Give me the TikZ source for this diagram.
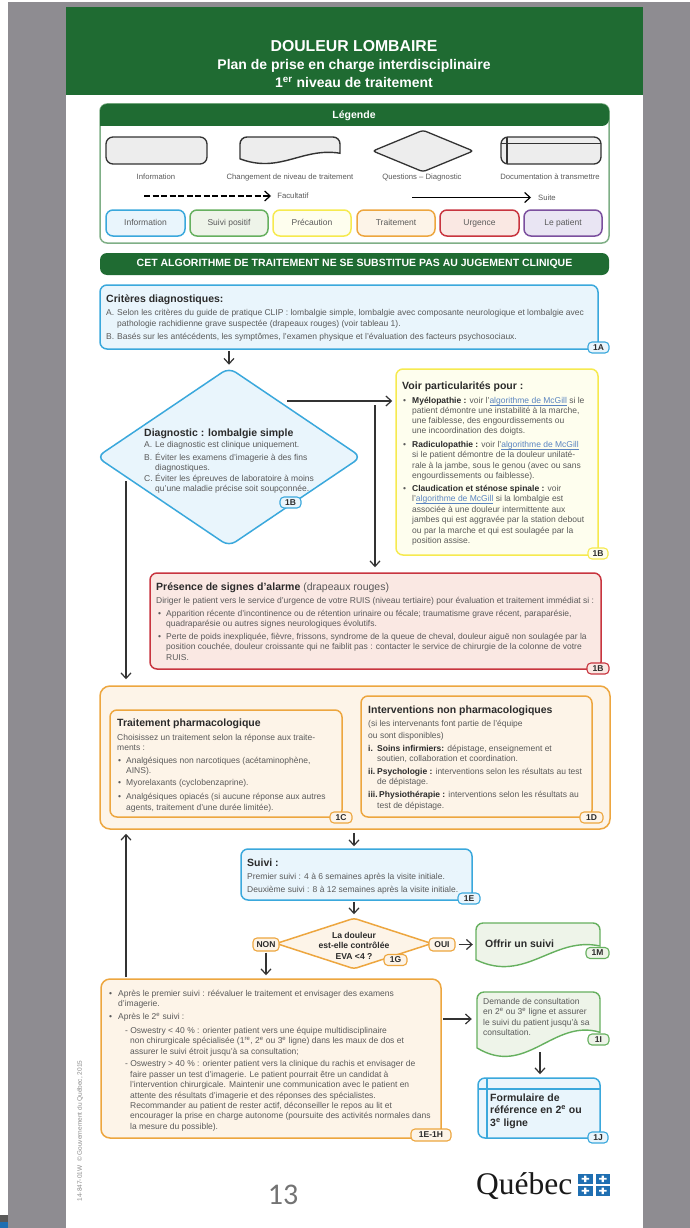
\documentclass[tikz,border=0pt]{standalone}
\usepackage{fontspec}
\setmainfont{Liberation Sans}
\newfontfamily\quefont{Liberation Serif}
\newfontfamily\numfont{Carlito}
\usetikzlibrary{shapes.geometric,arrows.meta}
\definecolor{hgreen}{HTML}{1F6B32}
\definecolor{panel}{HTML}{8E8C91}
\definecolor{bodyc}{HTML}{5A5A5A}
\definecolor{darkc}{HTML}{2B2B2B}
\definecolor{arrc}{HTML}{333333}
\definecolor{linkc}{HTML}{5B85C0}
\definecolor{qblue}{HTML}{1F6FB2}
\definecolor{lblue}{HTML}{3AA8DC}\definecolor{fblue}{HTML}{E9F5FC}
\definecolor{lgreen}{HTML}{66B05F}\definecolor{fgreen}{HTML}{EEF4E9}
\definecolor{lyellow}{HTML}{F6EA4F}\definecolor{fyellow}{HTML}{FEFEEE}
\definecolor{lorange}{HTML}{EDA63F}\definecolor{forange}{HTML}{FDF4E8}
\definecolor{lred}{HTML}{C8353F}\definecolor{fred}{HTML}{FAE8E3}
\definecolor{lpurple}{HTML}{7B4F9E}\definecolor{fpurple}{HTML}{E9E5F3}
\definecolor{lleg}{HTML}{7FAF86}
\definecolor{lgrey}{HTML}{333333}\definecolor{fgrey}{HTML}{EDEDED}
\newcommand\fb{\fontsize{8.5}{9.5}\selectfont}
\newcommand\bt[1]{\textcolor{darkc}{\textbf{#1}}}
\newlength\lkw
\newcommand\lk[1]{\settowidth{\lkw}{#1}\textcolor{linkc}{\rlap{\rule[-1.2pt]{\lkw}{.5pt}}#1}}
\newcounter{tn}
\newcommand\tl[3]{\stepcounter{tn}\node[txt] (t\arabic{tn}) at (#1,{#2+2.8}) {#3};}
\newcommand\ti[4][10.5]{\stepcounter{tn}\node[txt,font={\fontsize{#1}{#1}\selectfont\bfseries},text=darkc] (t\arabic{tn}) at (#2,{#3+3.4}) {#4};}
\newcommand\lb[3]{\stepcounter{tn}\node[leg] (t\arabic{tn}) at (#1,#2) {#3};}
\newcommand\bx[6]{\node[#6,minimum width={(#4-#2)*1pt},minimum height={(#5-#3)*1pt}] (#1) at ({(#2+#4)/2},{(#3+#5)/2}) {};}
\newcommand\tg[7][]{\node[tagbox,draw=#6,fill=#7,minimum width={#4*1pt},#1] (#2) at (#3) {#5};}
% wave: name x1 y1 x2 y2 R L line fill
\newcommand\wave[9]{%
 \pgfmathsetmacro\wx{#4-#2}\pgfmathsetmacro\wy{#5-#3}%
 \pgfmathsetmacro\yr{#3+#6*\wy}\pgfmathsetmacro\yl{#3+#7*\wy}%
 \pgfmathsetmacro\cax{#2+.62*\wx}\pgfmathsetmacro\cay{\yr-.22*\wy}%
 \pgfmathsetmacro\cbx{#2+.4*\wx}\pgfmathsetmacro\cby{#3+1.32*\wy}%
 \draw[line width=1.4pt,draw=#8,fill=#9] (#4,\yr) .. controls (\cax,\cay) and (\cbx,\cby) .. (#2,\yl) [rounded corners=7pt] -- (#2,#3) -- (#4,#3) [sharp corners] -- cycle;%
 \bx{#1}{#2}{#3}{#4}{#5}{inner sep=0}%
}
\tikzset{
 x=1pt,y=-1pt,
 txt/.style={anchor=base west,inner sep=0,text=bodyc,font=\fb},
 leg/.style={inner sep=0,text=bodyc,text height=5.6pt,text depth=1.6pt,font=\fontsize{7.7}{8}\selectfont},
 pill/.style={leg,font=\fontsize{8.5}{9}\selectfont},
 hd/.style={anchor=base,inner sep=0,text=white,font=\bfseries},
 rbox/.style={draw,rounded corners=7pt,inner sep=0,line width=1.5pt},
 bluebox/.style={rbox,draw=lblue,fill=fblue},
 greenbox/.style={rbox,draw=lgreen,fill=fgreen},
 yellowbox/.style={rbox,draw=lyellow,fill=fyellow},
 orangebox/.style={rbox,draw=lorange,fill=forange},
 redbox/.style={rbox,draw=lred,fill=fred},
 purplebox/.style={rbox,draw=lpurple,fill=fpurple},
 greybox/.style={rbox,draw=lgrey,fill=fgrey,line width=1.3pt},
 tagbox/.style={inner sep=0,rounded corners=4pt,line width=1.1pt,minimum height=11pt,text=darkc,font=\fontsize{8.5}{9}\bfseries\selectfont},
 arr/.style={draw=arrc,line width=1.2pt,-{Straight Barb[length=5.5pt,width=10pt]}},
}
\begin{document}
\begin{tikzpicture}
\useasboundingbox (0,0) rectangle (690,1228);
\fill[white] (0,0) rectangle (690,1228);
\fill[panel] (8,2) rectangle (690,1228);
\fill[black!65] (0,1215) rectangle (8,1222);
\fill[qblue] (0,1222) rectangle (8,1228);
\fill[white] (66,7) rectangle (643,1228);
\fill[hgreen] (66,7) rectangle (643,95);
\node[hd,font=\fontsize{15.8}{16}\bfseries\selectfont] (title) at (354,51.5) {DOULEUR LOMBAIRE};
\node[hd,font=\fontsize{14}{14}\bfseries\selectfont] (sub1) at (354,69.5) {Plan de prise en charge interdisciplinaire};
\node[hd,font=\fontsize{14}{14}\bfseries\selectfont] (sub2) at (354,88) {1\textsuperscript{er} niveau de traitement};
% legend
\bx{legbox}{100}{104}{609}{243}{rbox,draw=lleg,fill=white}
\fill[hgreen,rounded corners=7pt] (100,126) -- (100,104) -- (609,104) -- (609,126) [sharp corners] -- cycle;
\node[hd,font=\fontsize{10.5}{11}\bfseries\selectfont] (legt) at (354,119) {Légende};
\bx{lg1}{106}{137}{207}{164}{greybox}
\wave{lg2}{240}{137}{340}{165}{.58}{.78}{lgrey}{fgrey}
\node[diamond,draw=lgrey,fill=fgrey,line width=1.3pt,inner sep=0,rounded corners=3pt,minimum width=101pt,minimum height=42pt] (lg3) at (423,151) {};
\bx{lg4}{501}{137}{601}{164}{greybox}
\draw[lgrey,line width=1.2pt] (501,143.5) -- (601,143.5) (507,137) -- (507,164);
\lb{156}{177}{Information}
\lb{290}{177}{Changement de niveau de traitement}
\lb{422}{177}{Questions – Diagnostic}
\lb{550}{177}{Documentation à transmettre}
\coordinate (ld1) at (144,196);\coordinate (ld2) at (271,196);
\draw[arr,draw=black,dash pattern=on 6pt off 2.5pt] (ld1) -- (ld2);
\coordinate (ls1) at (412,197.5);\coordinate (ls2) at (531,197.5);
\draw[arr,draw=black] (ls1) -- (ls2);
\lb{293}{196}{Facultatif}
\lb{547}{198}{Suite}
\bx{p1}{106}{210}{185}{236}{bluebox}\node[pill] (p1t) at (p1) {Information};
\bx{p2}{190}{210}{268}{236}{greenbox}\node[pill] (p2t) at (p2) {Suivi positif};
\bx{p3}{273}{210}{351}{236}{yellowbox}\node[pill] (p3t) at (p3) {Précaution};
\bx{p4}{357}{210}{435}{236}{orangebox}\node[pill] (p4t) at (p4) {Traitement};
\bx{p5}{440}{210}{519}{236}{redbox}\node[pill] (p5t) at (p5) {Urgence};
\bx{p6}{524}{210}{602}{236}{purplebox}\node[pill] (p6t) at (p6) {Le patient};
% banner
\node[fill=hgreen,rounded corners=7pt,inner sep=0,minimum width=509pt,minimum height=22pt,text=white,font=\fontsize{10.5}{11}\bfseries\selectfont] (banner) at (354.5,264) {CET ALGORITHME DE TRAITEMENT NE SE SUBSTITUE PAS AU JUGEMENT CLINIQUE};
% 1A
\bx{a1}{100}{285}{598}{349}{bluebox}
\ti{106}{299}{Critères diagnostiques:}
\tl{106}{313}{A.}\tl{117}{313}{Selon les critères du guide de pratique CLIP : lombalgie simple, lombalgie avec composante neurologique et lombalgie avec}
\tl{117}{324}{pathologie rachidienne grave suspectée (drapeaux rouges) (voir tableau 1).}
\tl{106}{337}{B.}\tl{117}{337}{Basés sur les antécédents, les symptômes, l'examen physique et l'évaluation des facteurs psychosociaux.}
\tg{tag1a}{598.5,347.5}{21}{1A}{lblue}{fblue}
% diamond 1B
\node[diamond,draw=lblue,fill=fblue,line width=1.5pt,inner sep=0,rounded corners=8pt,minimum width=265pt,minimum height=179pt] (d1) at (229,457) {};
\ti{144}{433}{Diagnostic : lombalgie simple}
\tl{144}{445}{A.}\tl{155}{445}{Le diagnostic est clinique uniquement.}
\tl{144}{458}{B.}\tl{155}{458}{Éviter les examens d'imagerie à des fins}
\tl{155}{468}{diagnostiques.}
\tl{144}{479}{C.}\tl{155}{479}{Éviter les épreuves de laboratoire à moins}
\tl{155}{489}{qu'une maladie précise soit soupçonnée.}
\tg{tag1b}{290.5,502.5}{21}{1B}{lblue}{fblue}
% yellow
\bx{y1}{396}{369}{598}{555}{yellowbox}
\ti{402}{386}{Voir particularités pour :}
\tl{403}{401}{•}\tl{412}{401}{\bt{Myélopathie :} voir l'\lk{algorithme de McGill} si le}
\tl{412}{411}{patient démontre une instabilité à la marche,}
\tl{412}{421}{une faiblesse, des engourdissements ou}
\tl{412}{431}{une incoordination des doigts.}
\tl{403}{445}{•}\tl{412}{445}{\bt{Radiculopathie :} voir l'\lk{algorithme de McGill}}
\tl{412}{455}{si le patient démontre de la douleur unilaté-}
\tl{412}{466}{rale à la jambe, sous le genou (avec ou sans}
\tl{412}{476}{engourdissements ou faiblesse).}
\tl{403}{489}{•}\tl{412}{489}{\bt{Claudication et sténose spinale :} voir}
\tl{412}{499}{l'\lk{algorithme de McGill} si la lombalgie est}
\tl{412}{510}{associée à une douleur intermittente aux}
\tl{412}{520}{jambes qui est aggravée par la station debout}
\tl{412}{531}{ou par la marche et qui est soulagée par la}
\tl{412}{541}{position assise.}
\tg{tag1by}{598,553.5}{20}{1B}{lyellow}{fyellow}
% red
\bx{r1}{150}{573}{601}{669}{redbox}
\ti{156}{587}{Présence de signes d'alarme {\mdseries\textcolor{bodyc}{(drapeaux rouges)}}}
\tl{156}{601}{Diriger le patient vers le service d'urgence de votre RUIS (niveau tertiaire) pour évaluation et traitement immédiat si :}
\tl{158}{614}{•}\tl{166}{614}{Apparition récente d'incontinence ou de rétention urinaire ou fécale; traumatisme grave récent, paraparésie,}
\tl{166}{624}{quadraparésie ou autres signes neurologiques évolutifs.}
\tl{158}{637}{•}\tl{166}{637}{Perte de poids inexpliquée, fièvre, frissons, syndrome de la queue de cheval, douleur aiguë non soulagée par la}
\tl{166}{647}{position couchée, douleur croissante qui ne faiblit pas : contacter le service de chirurgie de la colonne de votre}
\tl{166}{658}{RUIS.}
\tg{tag1br}{598,668.5}{22}{1B}{lred}{fred}
% orange group
\bx{o1}{100}{686}{610}{829}{orangebox,rounded corners=10pt}
\bx{c1}{110}{710}{342}{817}{orangebox}
\ti{117}{723}{Traitement pharmacologique}
\tl{117}{738}{Choisissez un traitement selon la réponse aux traite-}
\tl{117}{748}{ments :}
\tl{118}{761}{•}\tl{126}{761}{Analgésiques non narcotiques (acétaminophène,}
\tl{126}{771}{AINS).}
\tl{118}{783}{•}\tl{126}{783}{Myorelaxants (cyclobenzaprine).}
\tl{118}{797}{•}\tl{126}{797}{Analgésiques opiacés (si aucune réponse aux autres}
\tl{126}{808}{agents, traitement d'une durée limitée).}
\tg{tag1c}{341,817.5}{22}{1C}{lorange}{forange}
\bx{e1}{361}{696}{592}{817}{orangebox}
\ti{368}{710}{Interventions non pharmacologiques}
\tl{368}{724}{(si les intervenants font partie de l'équipe}
\tl{368}{736}{ou sont disponibles)}
\tl{368}{749}{\bt{i.}}\tl{377}{749}{\bt{Soins infirmiers:} dépistage, enseignement et}
\tl{377}{759}{soutien, collaboration et coordination.}
\tl{368}{772}{\bt{ii.}}\tl{377}{772}{\bt{Psychologie :} interventions selon les résultats au test}
\tl{377}{782}{de dépistage.}
\tl{368}{795}{\bt{iii.}}\tl{379}{795}{\bt{Physiothérapie :} interventions selon les résultats au}
\tl{377}{806}{test de dépistage.}
\tg{tag1d}{591.5,817.5}{23}{1D}{lorange}{forange}
% suivi
\bx{s1}{241}{849}{472}{900}{bluebox}
\ti{247}{863}{Suivi :}
\tl{247}{877}{Premier suivi : 4 à 6 semaines après la visite initiale.}
\tl{247}{890}{Deuxième suivi : 8 à 12 semaines après la visite initiale.}
\tg{tag1e}{469,898.5}{22}{1E}{lblue}{fblue}
% 1G
\node[diamond,draw=lorange,fill=forange,line width=1.5pt,inner sep=0,rounded corners=3pt,minimum width=156pt,minimum height=51pt] (g1) at (354,943.5) {};
\node[inner sep=0,align=center,text=darkc,font=\fontsize{8.6}{10.4}\bfseries\selectfont] (g1t) at (354,945.5) {La douleur\\est-elle contrôlée\\EVA <4 ?};
\tg{tag1g}{395.5,960}{23}{1G}{lorange}{forange}
\tg[minimum height=13pt]{non}{266,944.5}{26}{NON}{lorange}{forange}
\tg[minimum height=13pt]{oui}{442,944.5}{26}{OUI}{lorange}{forange}
\wave{m1}{476}{923}{600}{969}{.5}{.8}{lgreen}{fgreen}
\ti{485}{944}{Offrir un suivi}
\tg{tag1m}{597.5,953}{23}{1M}{lgreen}{fgreen}
% 1E-1H
\bx{h1}{101}{979}{441}{1138}{orangebox,rounded corners=9pt}
\tl{109}{994}{•}\tl{118}{994}{Après le premier suivi : réévaluer le traitement et envisager des examens}
\tl{118}{1004}{d'imagerie.}
\tl{109}{1017}{•}\tl{118}{1017}{Après le 2\textsuperscript{e} suivi :}
\tl{125}{1031}{- Oswestry < 40 \% : orienter patient vers une équipe multidisciplinaire}
\tl{130}{1041}{non chirurgicale spécialisée (1\textsuperscript{re}, 2\textsuperscript{e} ou 3\textsuperscript{e} ligne) dans les maux de dos et}
\tl{130}{1052}{assurer le suivi étroit jusqu'à sa consultation;}
\tl{125}{1064}{- Oswestry > 40 \% : orienter patient vers la clinique du rachis et envisager de}
\tl{130}{1075}{faire passer un test d'imagerie. Le patient pourrait être un candidat à}
\tl{130}{1085}{l'intervention chirurgicale. Maintenir une communication avec le patient en}
\tl{130}{1096}{attente des résultats d'imagerie et des réponses des spécialistes.}
\tl{130}{1106}{Recommander au patient de rester actif, déconseiller le repos au lit et}
\tl{130}{1116}{encourager la prise en charge autonome (poursuite des activités normales dans}
\tl{130}{1127}{la mesure du possible).}
\tg[minimum height=12pt]{tag1h}{431,1135}{40}{1E-1H}{lorange}{forange}
% 1I
\wave{i1}{477}{992}{600}{1057}{.62}{.86}{lgreen}{fgreen}
\tl{483}{1002}{Demande de consultation}
\tl{483}{1012}{en 2\textsuperscript{e} ou 3\textsuperscript{e} ligne et assurer}
\tl{483}{1023}{le suivi du patient jusqu'à sa}
\tl{483}{1033}{consultation.}
\tg{tag1i}{598.5,1039.5}{21}{1I}{lgreen}{fgreen}
% 1J
\bx{j1}{478}{1078}{600}{1138}{bluebox}
\draw[lblue,line width=1.1pt] (478,1089) -- (600,1089) (487,1078) -- (487,1138);
\ti{490}{1098}{Formulaire de}
\ti{490}{1110}{référence en 2\textsuperscript{e} ou}
\ti{490}{1123}{3\textsuperscript{e} ligne}
\tg{tag1j}{598,1137.5}{20}{1J}{lblue}{fblue}
% connectors
\draw[arr,shorten <=1.5pt,shorten >=2pt] (d1.north |- a1.south) -- (d1.north);
\coordinate (de) at (287,401);
\draw[arr,shorten >=3pt] (de) -- (de -| y1.west);
\coordinate (v1) at (375,405);
\draw[arr,shorten >=5pt] (v1) -- (v1 |- r1.north);
\coordinate (v2) at (126,481);
\draw[arr,shorten >=6pt] (v2) -- (v2 |- o1.north);
\coordinate (u1) at (126,977);
\draw[arr,shorten >=4pt] (u1) -- (u1 |- o1.south);
\draw[arr,shorten <=3pt,shorten >=2pt] (g1.north |- o1.south) -- (g1.north |- s1.north);
\draw[arr,shorten <=1pt,shorten >=3pt] (g1.north |- s1.south) -- (g1.north);
\draw[arr,shorten <=3pt,shorten >=3pt] (oui.east) -- (m1.west |- oui.east);
\draw[arr,shorten <=1pt,shorten >=3pt] (non.south) -- (non.south |- h1.north);
\coordinate (he) at (443,1019);
\draw[arr,shorten >=5pt] (he) -- (he -| i1.west);
\coordinate (is) at (540,1052);
\draw[arr,shorten >=3pt] (is) -- (is |- j1.north);
% footer
\node[inner sep=0,text=black!55,font=\numfont\fontsize{30}{30}\selectfont] (pg) at (283,1195) {13};
\node[inner sep=0,anchor=base west,text=black!90,font=\quefont\fontsize{31.5}{32}\selectfont] (qc) at (476,1194) {Québec};
\foreach \qx/\qy in {578/1174,595.5/1174,578/1186,595.5/1186}{
 \fill[qblue] (\qx,\qy) rectangle ({\qx+14.5},{\qy+9.5});
 \fill[white] ({\qx+6.2},{\qy+1.5}) rectangle ({\qx+8.3},{\qy+8}) ({\qx+3.5},{\qy+3.8}) rectangle ({\qx+11},{\qy+5.7});
}
\node[rotate=90,inner sep=0,text=black!45,font=\fontsize{6.5}{7}\selectfont] (copy) at (80,1131) {14-847-01W ~© Gouvernement du Québec, 2015};
\end{tikzpicture}
\end{document}
